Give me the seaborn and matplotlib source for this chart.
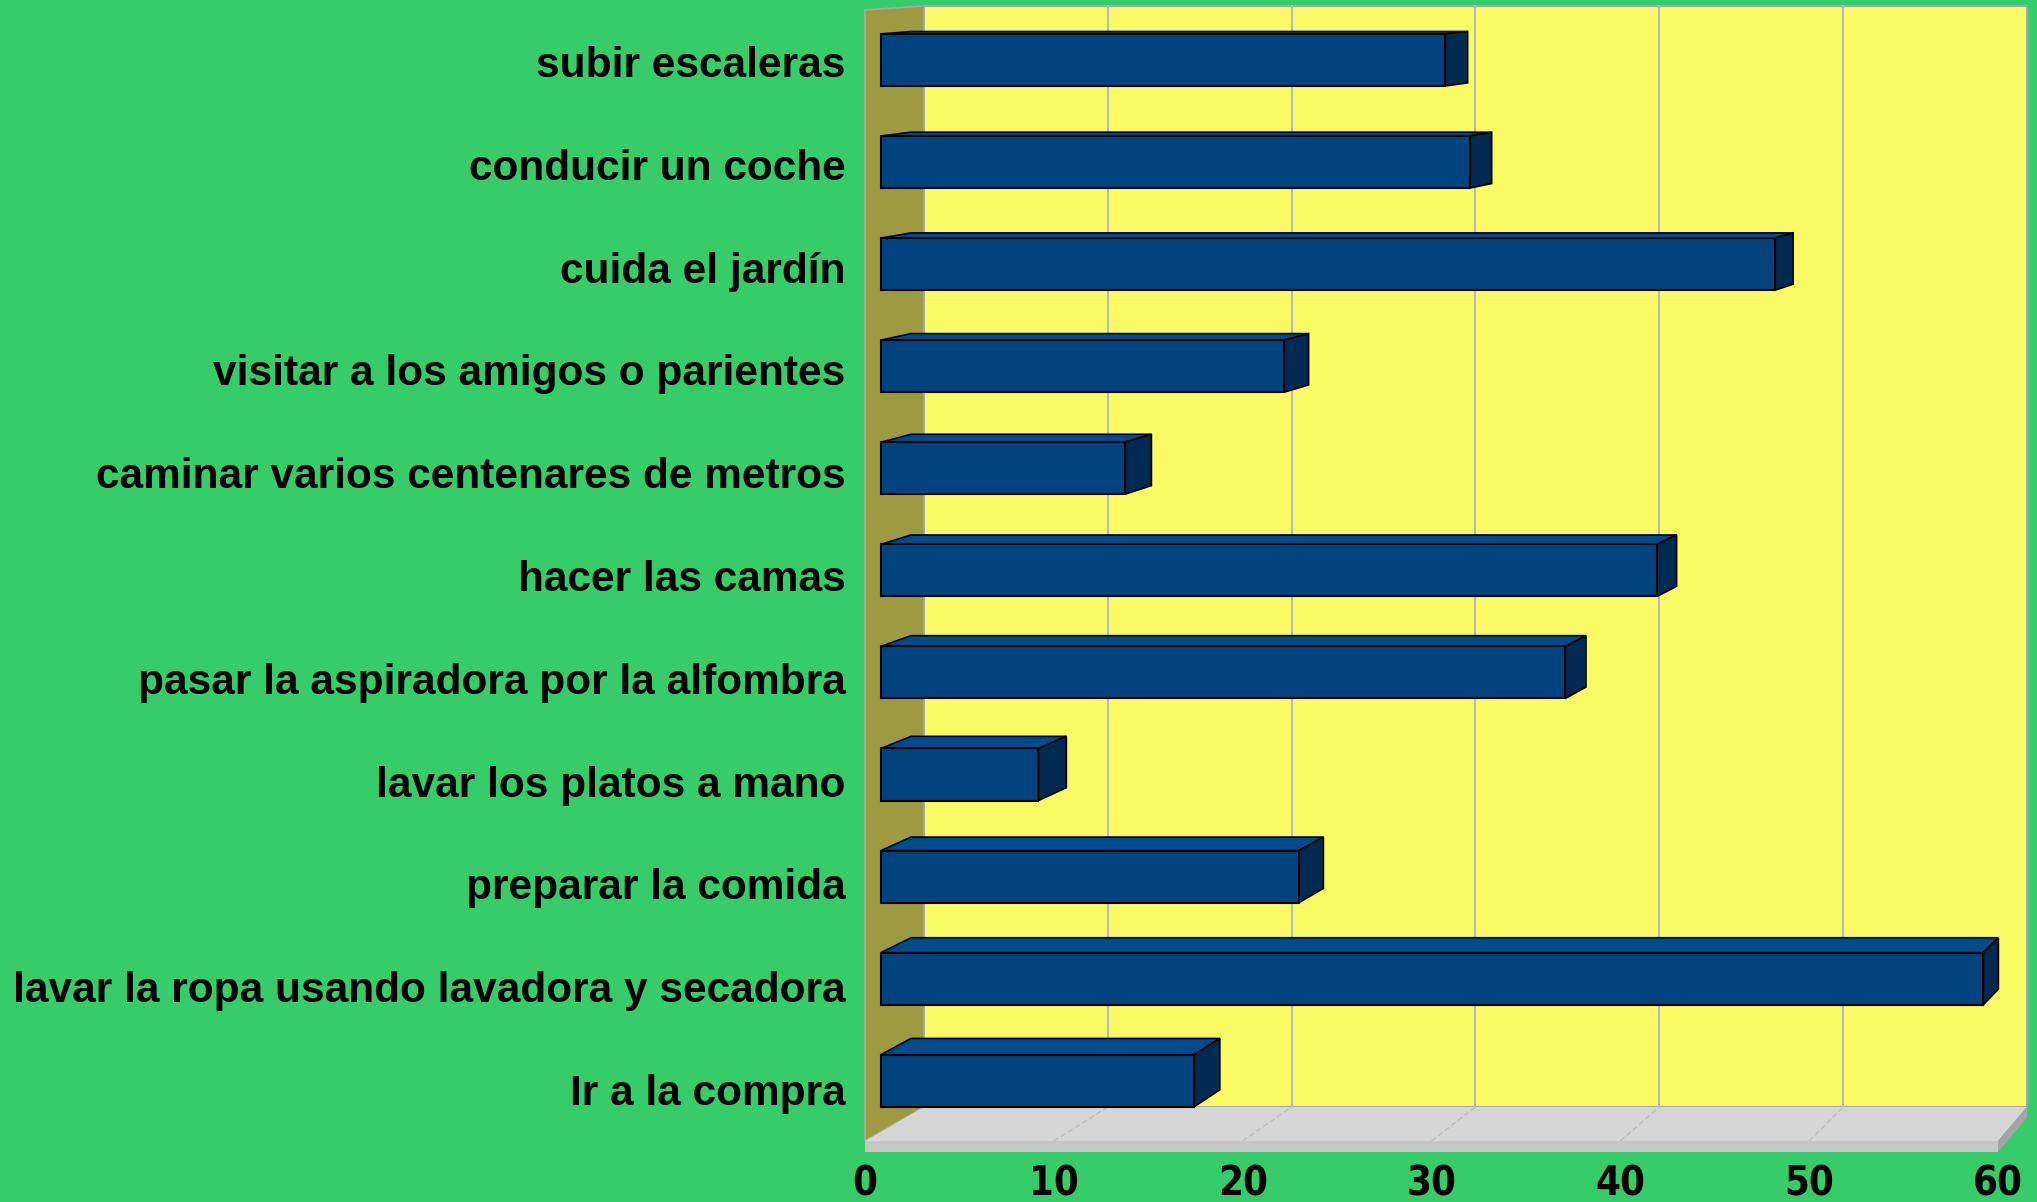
#Importar las librerías necesarias.
import numpy as np
import pandas as pd
import matplotlib
matplotlib.use("Agg")
import matplotlib.pyplot as plt
import seaborn as sns
from matplotlib import font_manager
from matplotlib.font_manager import FontProperties
from matplotlib.patches import Polygon
from matplotlib.transforms import Affine2D, IdentityTransform

# Datos
actividades = ['subir escaleras', 'conducir un coche', 'cuida el jardín',
               'visitar a los amigos o parientes', 'caminar varios centenares de metros',
               'hacer las camas', 'pasar la aspiradora por la alfombra',
               'lavar los platos a mano', 'preparar la comida',
               'lavar la ropa usando lavadora y secadora', 'Ir a la compra']
porcentajes = [30.1, 31.4, 47.7, 21.5, 13.0, 41.4, 36.5, 8.4, 22.3, 58.8, 16.7]
ticks_x = [0, 10, 20, 30, 40, 50, 60]

# Colores
verde = '#36cc6a'
amarillo = '#fafa64'
oliva = '#9e9a40'
azul = '#00437f'
azul_top = '#004b8e'
azul_lado = '#002a52'
suelo = '#d6d6d6'

sns.set_theme(style='white')
plt.rcParams['font.family'] = ['Liberation Sans', 'DejaVu Sans']

# Buscar una fuente estrecha en negrita para los números del eje x
def es_estrecha(f):
    st = f.stretch
    if isinstance(st, str):
        angosta = 'condensed' in st
    else:
        angosta = st < 500
    nombre = f.name.lower()
    return angosta or 'narrow' in nombre or 'condensed' in nombre

def es_negrita(f):
    w = f.weight
    if isinstance(w, str):
        return w in ('bold', 'heavy', 'black', 'semibold', 'demibold', 'extra bold')
    return w >= 600

estrechas = [f for f in font_manager.fontManager.ttflist
             if es_estrecha(f) and es_negrita(f) and f.style == 'normal'
             and 'mono' not in f.name.lower() and 'serif' not in f.name.lower()]
estrechas.sort(key=lambda f: (0 if 'Sans' in f.name else 1, f.name))
if estrechas:
    fp_x = FontProperties(fname=estrechas[0].fname)
else:
    fp_x = FontProperties(family=['Liberation Sans'], weight='bold')

W, H = 2037, 1202
fig = plt.figure(figsize=(W / 100, H / 100), dpi=100, facecolor=verde)
ax = fig.add_axes([865 / W, 61 / H, 1133 / W, 1131 / H])
ax.set_facecolor('none')

df = pd.DataFrame({'actividad': actividades, 'valor': porcentajes})
sns.barplot(data=df, x='valor', y='actividad', orient='h', width=0.51,
            color=azul, saturation=1, edgecolor='black', linewidth=1.5,
            ax=ax, zorder=5)
ax.set_autoscale_on(False)
ax.set_xlim(0, 60)
ax.set_ylim(len(actividades) - 0.5, -0.5)

# Tamaño de los números del eje x
renderer = fig.canvas.get_renderer()
prueba = fig.text(0, 0, '10', fontproperties=fp_x, fontsize=36)
bb = prueba.get_window_extent(renderer)
prueba.remove()
size_x = min(36 * 50 / bb.width, 36 * 40 / bb.height)
fp_x.set_size(size_x)

# Perspectiva: punto de fuga en coordenadas de pantalla
V = np.array([3090.0, 1345.0])
K = 0.0265
d0, d1 = 0.27, 0.78  # profundidad de las barras


def escala(d):
    s = 1 - K * d
    return Affine2D().translate(-V[0], -V[1]).scale(s).translate(V[0], V[1])


def proj(x, y, d):
    p = ax.transData.transform((x, y))
    return V + (1 - K * d) * (p - V)


def poly(pts, **kw):
    pg = Polygon(np.array(pts), closed=True, transform=IdentityTransform(),
                 clip_on=False, **kw)
    ax.add_patch(pg)
    return pg


barras = list(ax.patches)

y_top, y_bot = -0.5, len(actividades) - 0.5
xmin, xmax = 0, 60

# Pared del fondo
poly([proj(xmin, y_top, 1), proj(xmax, y_top, 1), proj(xmax, y_bot, 1), proj(xmin, y_bot, 1)],
     facecolor=amarillo, edgecolor='#a8a8a8', linewidth=1.5, zorder=0.5)
for t in ticks_x[1:-1]:
    a, b = proj(t, y_top, 1), proj(t, y_bot, 1)
    ax.plot([a[0], b[0]], [a[1], b[1]], color='#b9b9b9', lw=1.5,
            transform=IdentityTransform(), zorder=0.6, clip_on=False)

# Pared izquierda
poly([proj(xmin, y_top, 0), proj(xmin, y_top, 1), proj(xmin, y_bot, 1), proj(xmin, y_bot, 0)],
     facecolor=oliva, edgecolor='#a8a8a8', linewidth=1.2, zorder=0.7)

# Suelo
grosor = 11
f0, f1 = proj(xmin, y_bot, 0), proj(xmax, y_bot, 0)
b0, b1 = proj(xmin, y_bot, 1), proj(xmax, y_bot, 1)
poly([f0, f1, b1, b0], facecolor=suelo, edgecolor='none', zorder=0.8)
poly([f0, f1, f1 - [0, grosor], f0 - [0, grosor]], facecolor='#c6c6c6', edgecolor='none', zorder=0.8)
poly([f1, b1, b1 - [0, grosor], f1 - [0, grosor]], facecolor='#a4a4a4', edgecolor='none', zorder=0.8)
for t in ticks_x[1:-1]:
    a, b = proj(t, y_bot, 0), proj(t, y_bot, 1)
    ax.plot([a[0], b[0]], [a[1], b[1]], color='#bdbdbd', lw=1, ls=(0, (4, 2)),
            transform=IdentityTransform(), zorder=0.85, clip_on=False)

# Barras en 3D: cara frontal de seaborn + cara superior y lateral
for p in barras:
    p.set_transform(ax.transData + escala(d0))
    p.set_clip_on(False)
    x0, x1 = p.get_x(), p.get_x() + p.get_width()
    ya, yb = p.get_y(), p.get_y() + p.get_height()
    # la arista superior en pantalla
    if ax.transData.transform((0, ya))[1] > ax.transData.transform((0, yb))[1]:
        yt, yl = ya, yb
    else:
        yt, yl = yb, ya
    poly([proj(x0, yt, d0), proj(x1, yt, d0), proj(x1, yt, d1), proj(x0, yt, d1)],
         facecolor=azul_top, edgecolor='black', linewidth=1.2, zorder=4)
    poly([proj(x1, yt, d0), proj(x1, yl, d0), proj(x1, yl, d1), proj(x1, yt, d1)],
         facecolor=azul_lado, edgecolor='black', linewidth=1.2, zorder=4)

# Ejes
ax.set_xticks(ticks_x)
ax.set_xlabel('')
ax.set_ylabel('')
for s in ax.spines.values():
    s.set_visible(False)
ax.tick_params(axis='y', length=0, pad=14, labelsize=30.5, labelcolor='black')
ax.tick_params(axis='x', length=0, pad=17, labelcolor='black')
plt.setp(ax.get_yticklabels(), fontweight='bold')
for lab in ax.get_xticklabels():
    lab.set_fontproperties(fp_x)
ax.grid(False)

fig.savefig('out.png', dpi=100, facecolor=verde)
